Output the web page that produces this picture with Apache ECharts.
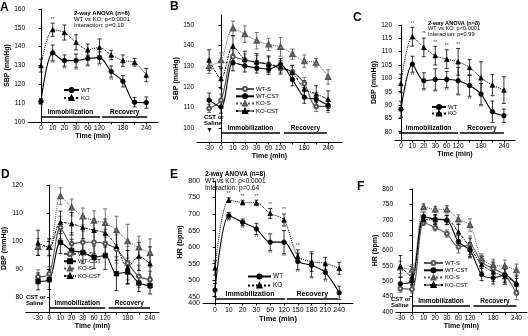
<!DOCTYPE html>
<html>
<head>
<meta charset="utf-8">
<script src="https://cdn.jsdelivr.net/npm/echarts@6/dist/echarts.min.js"></script>
<style>
  html, body { margin: 0; padding: 0; background: #fff; }
  #main { width: 528px; height: 336px; }
</style>
</head>
<body>
<div id="main"></div>
<script>
// time points -> position on the x axis (-30 sits one step left of 0)
var timeLabels = ['-30', '0', '10', '20', '30', '60', '120', '150', '180', '210', '240'];
var timeIdx = [-1, 0, 1, 2, 3, 4, 5, 6, 7, 8, 9];

// A: SBP, WT vs KO
var sbpWT    = [111, 136.7, 132.6, 132.6, 133.7, 134.2, 126.8, 121.6, 110.5, 110.3];
var sbpWTErr = [1.5, 4.2, 3, 3.5, 3.5, 3, 3, 3, 2.5, 3];
var sbpKO    = [130, 149, 147.5, 142.3, 138.4, 139.6, 135.6, 132.6, 131.7, 124.9];
var sbpKOErr = [3.5, 3.5, 4, 4, 3, 4.5, 2.5, 3, 2, 3.5];
var sbpWTSig = [0, 1, 1, 1, 1, 1, 1, 0, 0, 0];
var sbpKOSig = [0, 1, 0, 0, 0, 0, 0, 0, 0, 0];

// B: SBP, saline vs CST (-30 .. 240)
var sbpWTS      = [109.5, 113.5, 134.6, 133, 131.8, 131, 129, 127.3, 121.6, 110.5, 110.5];
var sbpWTSErr   = [2, 3, 4, 3, 3.5, 3.5, 3, 3, 3, 2.5, 3];
var sbpWTCST    = [113.5, 110.2, 131.8, 130.2, 129.2, 128.6, 130.8, 123.5, 115, 114, 111];
var sbpWTCSTErr = [3.5, 3, 4, 3, 2.5, 2.5, 3, 3, 3, 3, 2.5];
var sbpKOS      = [130, 133, 148.4, 145.6, 142.4, 140.6, 139.4, 135.9, 132.5, 131.7, 124.8];
var sbpKOSErr   = [3.5, 3.5, 3.5, 4, 4, 3, 4.5, 2.5, 3, 2, 3.5];
var sbpKOCST    = [133, 124, 139.8, 133.3, 132.1, 131, 129.7, 127, 119, 116.5, 114];
var sbpKOCSTErr = [5, 5, 5, 4, 4, 4, 3, 3.5, 4, 4, 4];

// C: DBP, WT vs KO
var dbpWT    = [88.4, 105.3, 99.1, 99.6, 99.6, 99.1, 97.3, 94.1, 87.5, 86.0];
var dbpWTErr = [3, 3, 3, 4, 3, 5, 4, 4, 4, 2.5];
var dbpKO    = [98.1, 115.6, 111.6, 108.5, 107.2, 106.2, 104.1, 100.2, 97.5, 95.6];
var dbpKOErr = [3.5, 3.5, 3.5, 3.5, 3.5, 5, 3, 6, 4, 5];
var dbpWTSig = [0, 1, 1, 1, 1, 1, 1, 1, 0, 0];
var dbpKOSig = [0, 1, 1, 1, 1, 1, 0, 0, 0, 0];

// D: DBP, saline vs CST
var dbpWTS      = [87.3, 88.4, 104.9, 99.1, 99.6, 99.6, 99.1, 97.2, 92.2, 87.5, 86.3];
var dbpWTSErr   = [2.5, 2.5, 4, 4, 4, 4, 5, 5, 6, 4, 3];
var dbpWTCST    = [85.7, 86.3, 99.6, 96.7, 96, 94.3, 94.9, 88.4, 89, 85.1, 84.2];
var dbpWTCSTErr = [3, 3.5, 4, 4, 4, 4, 5, 6, 4, 3, 3];
var dbpKOS      = [98, 98, 116, 112, 108.8, 107.3, 106.5, 103.9, 100, 97.8, 95.8];
var dbpKOSErr   = [3, 3, 3, 3, 3, 3.5, 5, 5, 6, 4, 5];
var dbpKOCST    = [99.4, 97.8, 106.7, 106.2, 104.9, 103.9, 102.9, 98.2, 90.7, 94.6, 92];
var dbpKOCSTErr = [4.5, 3, 4, 4, 4, 4, 5, 5, 6, 5, 6];

// E: HR, WT vs KO
var hrWT    = [470, 695, 675, 655, 615, 615, 557, 545, 523, 462];
var hrWTErr = [20, 10, 10, 17, 25, 35, 25, 35, 20, 20];
var hrKO    = [537, 742, 735, 734, 702, 682, 572, 556, 551, 536];
var hrKOErr = [22, 7, 7, 8, 15, 18, 20, 30, 18, 18];
var hrWTSig = [0, 1, 1, 1, 1, 1, 1, 1, 1, 0];
var hrKOSig = [0, 1, 1, 1, 1, 1, 1, 0, 0, 0];
// the HR axis in E stops short of 400 (its floor carries the 400 label)
var hrAxisFloorE = 431;

// F: HR, saline vs CST
var hrWTS      = [476, 474, 691, 674, 655, 612, 617, 563, 541, 520, 462];
var hrWTSErr   = [12, 12, 10, 10, 12, 20, 30, 20, 25, 20, 22];
var hrWTCST    = [492, 500, 710, 702, 699, 628, 601, 522, 511, 520, 489];
var hrWTCSTErr = [20, 20, 15, 15, 15, 20, 25, 20, 20, 25, 20];
var hrKOS      = [545, 538, 742, 734, 734, 701, 683, 574, 552, 549, 536];
var hrKOSErr   = [20, 15, 10, 10, 12, 15, 20, 15, 20, 20, 20];
var hrKOCST    = [549, 514, 700, 700, 700, 660, 610, 555, 530, 515, 495];
var hrKOCSTErr = [35, 25, 15, 15, 15, 25, 30, 25, 30, 25, 25];

var FONT = 'Liberation Sans, Arial, sans-serif';
var GRAY = '#555';

var options = { animation: false, grid: [], xAxis: [], yAxis: [], series: [], legend: [], graphic: [] };

var styles = {
  'WT':     { color: '#000', symbol: 'circle', size: 4.5, type: 'solid' },
  'KO':     { color: '#000', symbol: 'triangle', size: 4.5, type: 'dotted' },
  'WT-S':   { color: GRAY, symbol: 'emptyCircle', size: 3.8, type: 'solid' },
  'WT-CST': { color: '#000', symbol: 'circle', size: 4.5, type: 'solid' },
  'KO-S':   { color: GRAY, symbol: 'emptyTriangle', size: 4.2, type: 'dotted' },
  'KO-CST': { color: '#000', symbol: 'triangle', size: 4.5, type: [2.5, 1, 1, 1] }
};

// error bars, plus "**" above (dir 1) or below (dir -1) where flagged
function errSeries(gi, xs, ys, es, color, sig, dir) {
  return {
    type: 'custom', name: 'err', xAxisIndex: gi, yAxisIndex: gi, silent: true, z: 1,
    data: xs.map(function (x, i) { return [x, ys[i], es[i], sig ? sig[i] : 0]; }),
    renderItem: function (params, api) {
      var x = api.value(0), y = api.value(1), e = api.value(2);
      var t = api.coord([x, y + e]), b = api.coord([x, y - e]);
      var st = { stroke: color, lineWidth: 0.8 };
      var kids = [
        { type: 'line', shape: { x1: t[0], y1: t[1], x2: b[0], y2: b[1] }, style: st },
        { type: 'line', shape: { x1: t[0] - 2, y1: t[1], x2: t[0] + 2, y2: t[1] }, style: st },
        { type: 'line', shape: { x1: b[0] - 2, y1: b[1], x2: b[0] + 2, y2: b[1] }, style: st }
      ];
      if (api.value(3)) {
        var py = dir > 0 ? t[1] - 4 : b[1] + 3;
        kids.push({ type: 'text', x: t[0], y: py, style: { text: '**', font: '5px ' + FONT,
          fill: '#444', align: 'center', verticalAlign: 'middle' } });
      }
      return { type: 'group', children: kids };
    }
  };
}

function addPanel(p) {
  var gi = options.grid.length;
  options.grid.push({ left: p.grid[0], top: p.grid[1], width: p.grid[2], height: p.grid[3] });
  var xs = p.withPre ? timeIdx : timeIdx.slice(1);
  var labs = p.withPre ? timeLabels : timeLabels.slice(1);
  options.xAxis.push({
    type: 'value', gridIndex: gi, min: p.xr[0], max: p.xr[1],
    name: 'Time (min)', nameLocation: 'middle', nameGap: p.xGap || 11,
    nameTextStyle: { fontFamily: FONT, fontSize: p.fs + 0.5, fontWeight: 'bold', color: '#000' },
    axisLine: { lineStyle: { color: '#000', width: 1 } },
    axisTick: { customValues: xs, length: 2.5, lineStyle: { color: '#000' } },
    axisLabel: {
      customValues: xs.filter(function (v, i) { return p.hide.indexOf(labs[i]) < 0; }),
      margin: p.xMargin || 3, fontFamily: FONT, fontSize: p.fs, color: '#000', hideOverlap: false,
      formatter: function (v) { return timeLabels[timeIdx.indexOf(v)]; }
    },
    splitLine: { show: false }
  });
  options.yAxis.push({
    type: 'value', gridIndex: gi, min: p.yr[0], max: p.yr[1],
    name: p.yname, nameLocation: 'middle', nameGap: p.yGap, nameRotate: 90,
    nameTextStyle: { fontFamily: FONT, fontSize: p.fs + 0.5, fontWeight: 'bold', color: '#000' },
    axisLine: { show: true, lineStyle: { color: '#000', width: 1 } },
    axisTick: { show: true, customValues: p.yt, length: 2.5, lineStyle: { color: '#000' } },
    axisLabel: { customValues: p.yl || p.yt, margin: 3, fontFamily: FONT, fontSize: p.fs, color: '#000' },
    splitLine: { show: false }
  });
  var legendNames = [];
  p.series.forEach(function (s) {
    var st = styles[s.key];
    var name = s.key + (p.suffix || '');
    legendNames.push(name);
    options.series.push(errSeries(gi, xs, s.data, s.err, st.color, s.sig, s.dir));
    options.series.push({
      type: 'line', name: name, xAxisIndex: gi, yAxisIndex: gi, z: 3,
      data: xs.map(function (x, i) { return [x, s.data[i]]; }),
      smooth: 0.3, symbol: (p.symbols && p.symbols[s.key]) || st.symbol, symbolSize: st.size,
      lineStyle: { color: st.color, width: st.type === 'solid' ? 1.1 : 1, type: st.type },
      itemStyle: { color: st.color, borderColor: st.color, borderWidth: 0.8 }
    });
  });
  // phase bars
  options.series.push({
    type: 'line', name: 'phase', xAxisIndex: gi, yAxisIndex: gi, data: [], silent: true,
    markLine: {
      silent: true, symbol: ['none', 'none'], animation: false,
      lineStyle: { color: '#000', width: 1.6, type: 'solid' },
      label: { show: true, position: 'insideMiddleTop', distance: 1, formatter: '{b}',
        fontFamily: FONT, fontSize: p.fs, fontWeight: 'bold', color: '#000' },
      data: [
        [{ name: 'Immobilization', coord: [p.immob[0], p.barY] }, { coord: [p.immob[1], p.barY] }],
        [{ name: 'Recovery', coord: [p.recov[0], p.barY] }, { coord: [p.recov[1], p.barY] }]
      ]
    }
  });
  options.legend.push({
    data: legendNames, left: p.leg[0], top: p.leg[1], orient: 'vertical',
    itemWidth: p.leg[2], itemHeight: 5, itemGap: p.leg[3], padding: 0,
    textStyle: { fontFamily: FONT, fontSize: p.fs - 0.5, color: '#000', padding: [0, 0, 0, -3] },
    formatter: function (n) { return n.replace('_D', '').replace('_F', ''); }
  });
  options.graphic.push({ type: 'text', left: p.letter[0], top: p.letter[1],
    style: { text: p.letter[2], font: 'bold 12px ' + FONT, fill: '#000' } });
}

addPanel({ grid: [28, 9, 130, 113], xr: [-1.11, 10], yr: [100, 160], yt: [100, 110, 120, 130, 140, 150, 160],
  yname: 'SBP (mmHg)', yGap: 16, fs: 6.5, hide: ['150', '210'], withPre: false,
  barY: 102.7, immob: [0, 5.05], recov: [5.23, 9.08], leg: [63, 87, 15, 2], letter: [0, 2, 'A'],
  series: [{ key: 'WT', data: sbpWT, err: sbpWTErr, sig: sbpWTSig, dir: -1 },
    { key: 'KO', data: sbpKO, err: sbpKOErr, sig: sbpKOSig, dir: 1 }] });

addPanel({ grid: [197, 15, 145, 127], xr: [-2.02, 10.17], yr: [93.2, 154.9], yt: [100, 110, 120, 130, 140, 150],
  yname: 'SBP (mmHg)', yGap: 11, fs: 6.5, hide: ['150', '210'], withPre: true,
  barY: 97.6, immob: [0, 4.96], recov: [5.3, 8.9], leg: [235, 86, 18, 1.3], letter: [170, 1, 'B'],
  series: [{ key: 'WT-S', data: sbpWTS, err: sbpWTSErr }, { key: 'WT-CST', data: sbpWTCST, err: sbpWTCSTErr },
    { key: 'KO-S', data: sbpKOS, err: sbpKOSErr }, { key: 'KO-CST', data: sbpKOCST, err: sbpKOCSTErr }] });

addPanel({ grid: [395, 25, 120, 115], xr: [-0.52, 9.97], yr: [76.9, 120], yt: [80, 85, 90, 95, 100, 105, 110, 115, 120],
  yname: 'DBP (mmHg)', yGap: 15, fs: 6.5, hide: ['150', '210'], withPre: false,
  barY: 79.8, immob: [-0.17, 5], recov: [5.15, 9], leg: [431, 104, 14, 0.5], letter: [353, 12, 'C'],
  series: [{ key: 'WT', data: dbpWT, err: dbpWTErr, sig: dbpWTSig, dir: -1 },
    { key: 'KO', data: dbpKO, err: dbpKOErr, sig: dbpKOSig, dir: 1 }] });

addPanel({ grid: [23, 185, 136, 127], xr: [-2.1, 9.8], yr: [74.8, 120], yt: [80, 90, 100, 110, 120],
  yname: 'DBP (mmHg)', yGap: 15, fs: 6.5, hide: ['150', '210'], withPre: true, suffix: '_D',
  symbols: { 'WT-CST': 'rect' },
  barY: 76.3, immob: [0, 5], recov: [5.3, 9], leg: [63, 251, 12, 1.3], letter: [1, 169, 'D'],
  series: [{ key: 'WT-S', data: dbpWTS, err: dbpWTSErr }, { key: 'WT-CST', data: dbpWTCST, err: dbpWTCSTErr },
    { key: 'KO-S', data: dbpKOS, err: dbpKOSErr }, { key: 'KO-CST', data: dbpKOCST, err: dbpKOCSTErr }] });

addPanel({ grid: [203, 181, 150, 122], xr: [-0.87, 10], yr: [hrAxisFloorE, 800],
  yt: [hrAxisFloorE, 450, 500, 550, 600, 650, 700, 750, 800],
  yl: [450, 500, 550, 600, 650, 700, 750, 800],
  yname: 'HR (bpm)', yGap: 16, fs: 7, xMargin: 4, xGap: 12, hide: [], withPre: false,
  barY: 444, immob: [0, 5.08], recov: [5.2, 8.9], leg: [247, 273, 23, 2], letter: [170, 169, 'E'],
  series: [{ key: 'WT', data: hrWT, err: hrWTErr, sig: hrWTSig, dir: -1 },
    { key: 'KO', data: hrKO, err: hrKOErr, sig: hrKOSig, dir: 1 }] });
// label of the E axis floor
options.graphic.push({ type: 'text', right: 528 - 200, top: 300,
  style: { text: '400', font: '7px ' + FONT, fill: '#000', align: 'right' } });

addPanel({ grid: [396, 189, 131, 123], xr: [-1.38, 9.91], yr: [400, 800], yt: [400, 450, 500, 550, 600, 650, 700, 750, 800],
  yname: 'HR (bpm)', yGap: 15, fs: 6.5, hide: ['150', '210'], withPre: true, suffix: '_F',
  barY: 419.5, immob: [0, 5], recov: [5.3, 9], leg: [423, 260, 19, 1.3], letter: [357, 181, 'F'],
  series: [{ key: 'WT-S', data: hrWTS, err: hrWTSErr }, { key: 'WT-CST', data: hrWTCST, err: hrWTCSTErr },
    { key: 'KO-S', data: hrKOS, err: hrKOSErr }, { key: 'KO-CST', data: hrKOCST, err: hrKOCSTErr }] });

// statistics notes and drug markers
function note(x, y, lines, size) {
  options.graphic.push({ type: 'text', left: x, top: y, style: {
    text: '{b|' + lines[0] + '}\n' + lines.slice(1).join('\n'),
    font: size + 'px ' + FONT, lineHeight: size + 0.3, fill: '#000',
    rich: { b: { fontWeight: 'bold', fontSize: size, fontFamily: FONT } } } });
}
note(74, 10, ['2-way ANOVA (n=8)', 'WT vs KO: p<0.0001', 'Interaction: p=0.19'], 6);
note(428, 20, ['2-way ANOVA (n=8)', 'WT vs KO: p<0.0001', 'Interaction: p=0.99'], 5.6);
note(205, 171, ['2-way ANOVA (n=8)', 'WT vs KO: p<0.0001', 'Interaction: p=0.64'], 6.5);

function cst(x, y) {
  options.graphic.push({ type: 'text', left: x, top: y, style: {
    text: 'CST or\nSaline', font: 'bold 6px ' + FONT, lineHeight: 6.5, fill: '#000' } });
}
cst(204, 114);
cst(26, 294);
cst(391, 296);
options.graphic.push({ type: 'text', left: 206, top: 127, style: { text: '▼', font: '7px ' + FONT, fill: '#000' } });

var chart = echarts.init(document.getElementById('main'), null, { renderer: 'canvas' });
chart.setOption(options);
</script>
</body>
</html>
